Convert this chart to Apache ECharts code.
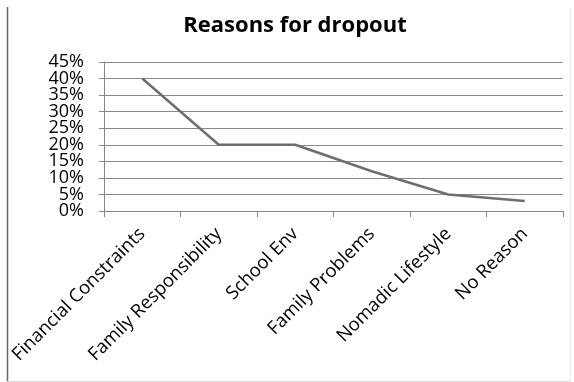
<!DOCTYPE html>
<html>
<head>
<meta charset="utf-8">
<script src="https://cdn.jsdelivr.net/npm/echarts@6/dist/echarts.min.js"></script>
<style>
html,body{margin:0;padding:0;background:#fff;}
#chart{width:574px;height:382px;}
</style>
</head>
<body>
<div id="chart"></div>
<script>
// Dropout reasons, share of respondents (%)
const categories = ['Financial Constraints', 'Family Responsibility', 'School Env', 'Family Problems', 'Nomadic Lifestyle', 'No Reason'];
const shares = [40, 20, 20, 12, 5, 3];
const yTicks = [0, 5, 10, 15, 20, 25, 30, 35, 40, 45];

const chart = echarts.init(document.getElementById('chart'));
chart.setOption({
  animation: false,
  backgroundColor: '#fff',
  title: {
    text: 'Reasons for dropout',
    left: 290, top: 10, textAlign: 'center',
    textStyle: { fontFamily: 'Open Sans', fontSize: 22, fontWeight: 'bold', color: '#000' }
  },
  grid: { left: 104, right: 11, top: 62, bottom: 171 },
  xAxis: {
    type: 'category', data: categories, boundaryGap: true,
    axisLine: { lineStyle: { color: '#888', width: 1 } },
    axisTick: { show: true, alignWithLabel: false, length: 6, lineStyle: { color: '#888' } },
    axisLabel: { rotate: 45, interval: 0, fontFamily: 'Open Sans', fontSize: 18.5, color: '#000', margin: 20 },
    splitLine: { show: false }
  },
  yAxis: {
    type: 'value', min: 0, max: 45, interval: 5,
    axisLine: { show: true, lineStyle: { color: '#888' } },
    axisTick: { show: true, length: 5, lineStyle: { color: '#888' } },
    axisLabel: { show: false },
    splitLine: { lineStyle: { color: '#888', width: 1 } }
  },
  series: [{
    type: 'line', data: shares, symbol: 'none',
    lineStyle: { color: '#6e6e6e', width: 2.5 }
  }]
});

// Chart frame: strong left edge, faint bottom and right edges.
const frame = [
  { type: 'line', shape: { x1: 7.5, y1: 7, x2: 7.5, y2: 382 }, style: { stroke: '#666', lineWidth: 1.5 }, silent: true },
  { type: 'line', shape: { x1: 7, y1: 381.5, x2: 571, y2: 381.5 }, style: { stroke: '#ddd', lineWidth: 1 }, silent: true },
  { type: 'line', shape: { x1: 570.5, y1: 7, x2: 570.5, y2: 382 }, style: { stroke: '#eee', lineWidth: 1 }, silent: true }
];

// Tick labels on the value axis are tightly packed, so place them explicitly
// at the axis' own pixel positions to keep every one visible.
const tickTexts = yTicks.map(v => {
  const py = chart.convertToPixel({ yAxisIndex: 0 }, v);
  return {
    type: 'text', x: 84, y: py,
    style: { text: v + '%', align: 'right', verticalAlign: 'middle',
             fontFamily: 'Open Sans', fontSize: 18, fill: '#000' },
    silent: true
  };
});
chart.setOption({ graphic: frame.concat(tickTexts) });
</script>
</body>
</html>
